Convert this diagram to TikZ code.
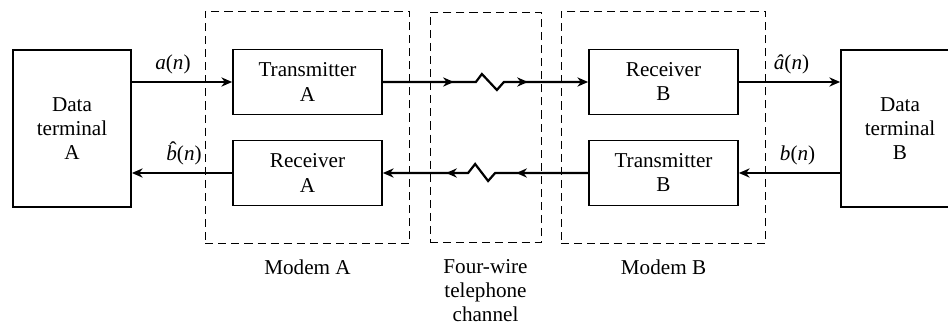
\documentclass[tikz,border=0pt]{standalone}
\usepackage{fontspec}
\setmainfont{Liberation Serif}
\usepackage{tikz}
\usetikzlibrary{arrows.meta,positioning,fit,backgrounds,decorations.markings}
\newcommand{\hatb}{\ooalign{\textit{b}\cr\hidewidth\kern0.14em\raisebox{0.2em}{\char"02C6}\hidewidth\cr}}

\begin{document}
\begin{tikzpicture}[
    x=0.52pt, y=-0.52pt,
    font=\fontsize{11}{12.5}\selectfont,
    block/.style={rectangle, draw, line width=0.9pt, minimum width=77.5pt,
                  minimum height=33.8pt, align=center, inner sep=0pt},
    terminal/.style={block, minimum width=61.4pt, minimum height=81.6pt},
    group/.style={rectangle, draw, line width=0.5pt,
                  dash pattern=on 4.2pt off 2.6pt},
    grouplabel/.style={align=center, inner sep=2pt},
    sig/.style={line width=1.15pt, -{Stealth[length=5.6pt, width=4.8pt]}},
    tips/.style 2 args={postaction={decorate}, decoration={markings,
        mark=at position #1 with {\arrow{Stealth[length=5.6pt, width=4.8pt]}},
        mark=at position #2 with {\arrow{Stealth[length=5.6pt, width=4.8pt]}}}}
]
\useasboundingbox (0,0) rectangle (948,324);

% Data terminals
\node[terminal] (dta) at (72,128.5) {Data\\terminal\\A};
\node[terminal] (dtb) at (900,128.5) {Data\\terminal\\B};

% Modem A
\node[block] (txa) at (307.5,82) {Transmitter\\A};
\node[block] (rxa) at (307.5,173) {Receiver\\A};

% Modem B
\node[block] (rxb) at (663.5,82) {Receiver\\B};
\node[block] (txb) at (663.5,173) {Transmitter\\B};

% Terminal links
\draw[sig] (dta.east |- txa.west) -- node[above, pos=0.41] {\textit{a}(\textit{n})} (txa.west);
\draw[sig] (rxa.west) -- node[above, pos=0.48] {\hatb(\textit{n})} (dta.east |- rxa.west);
\draw[sig] (rxb.east) -- node[above, pos=0.52] {\textit{â}(\textit{n})} (dtb.west |- rxb.east);
\draw[sig] (dtb.west |- txb.east) -- node[above, pos=0.42] {\textit{b}(\textit{n})} (txb.east);

% Four-wire channel
\draw[sig, tips={36.9pt}{83pt}] (txa.east) -- ++(93,0) -- ++(6,-8) -- ++(15,16)
    -- ++(7,-8) -- (rxb.west);
\draw[sig, tips={37.4pt}{82.4pt}] (txb.west) -- ++(-93,0) -- ++(-7,8) -- ++(-13,-17)
    -- ++(-7,9) -- (rxa.east);

% Dashed groups
\begin{scope}[on background layer]
\node[group, fit=(txa)(rxa), inner xsep=14pt, inner ysep=19.5pt] (moda) {};
\node[group, fit=(rxb)(txb), inner xsep=14pt, inner ysep=19.5pt] (modb) {};
\node[group, minimum width=57.7pt, minimum height=120.1pt] (chan) at (485.5,127.5) {};
\end{scope}

\node[grouplabel, below=6pt of moda] (lblmoda) {Modem A};
\node[grouplabel, below=6pt of chan] (lblchan) {Four-wire\\telephone\\channel};
\node[grouplabel, below=6pt of modb] (lblmodb) {Modem B};

\end{tikzpicture}
\end{document}
